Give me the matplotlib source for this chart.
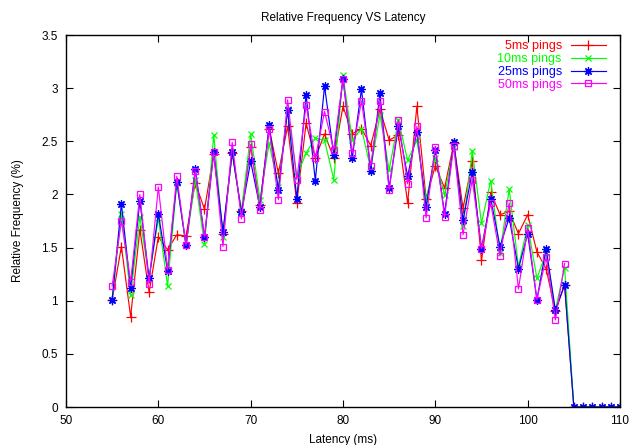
import matplotlib
matplotlib.use("Agg")
import matplotlib.pyplot as plt

plt.rcParams['font.family'] = ['Liberation Sans', 'DejaVu Sans']

latency = list(range(55, 111))
latency_50 = list(range(55, 105))

ping5 = [1.01, 1.51, 0.85, 1.67, 1.08, 1.60, 1.48, 1.62, 1.61, 2.11,
         1.86, 2.38, 1.63, 2.39, 1.84, 2.45, 1.90, 2.62, 2.20, 2.64,
         1.92, 2.67, 2.34, 2.57, 2.34, 2.83, 2.57, 2.62, 2.46, 2.80,
         2.51, 2.56, 1.92, 2.83, 1.96, 2.27, 2.06, 2.48, 1.87, 2.31,
         1.38, 2.02, 1.81, 1.84, 1.63, 1.81, 1.46, 1.30, 0.90, 1.15,
         0, 0, 0, 0, 0, 0]
ping10 = [1.01, 1.82, 1.05, 1.79, 1.21, 1.78, 1.14, 2.11, 1.52, 2.14,
          1.53, 2.56, 1.60, 2.40, 1.84, 2.57, 1.95, 2.48, 2.07, 2.80,
          2.17, 2.39, 2.53, 2.51, 2.14, 3.12, 2.51, 2.62, 2.24, 2.75,
          2.23, 2.70, 2.32, 2.51, 1.95, 2.34, 1.99, 2.45, 1.70, 2.41,
          1.73, 2.13, 1.45, 2.05, 1.32, 1.71, 1.21, 1.45, 0.91, 1.31,
          0, 0, 0, 0, 0, 0]
ping25 = [1.01, 1.91, 1.12, 1.94, 1.21, 1.82, 1.28, 2.12, 1.52, 2.24,
          1.60, 2.40, 1.65, 2.40, 1.83, 2.31, 1.88, 2.65, 2.04, 2.79,
          1.96, 2.94, 2.13, 3.02, 2.37, 3.09, 2.34, 2.99, 2.22, 2.95,
          2.06, 2.64, 2.17, 2.59, 1.88, 2.42, 1.82, 2.49, 1.76, 2.21,
          1.49, 1.96, 1.51, 1.78, 1.30, 1.63, 1.01, 1.49, 0.91, 1.15,
          0, 0, 0, 0, 0, 0]
ping50 = [1.14, 1.75, 1.18, 2.00, 1.16, 2.07, 1.29, 2.17, 1.52, 2.22,
          1.60, 2.40, 1.51, 2.49, 1.77, 2.47, 1.85, 2.62, 1.95, 2.89,
          2.14, 2.84, 2.34, 2.78, 2.42, 3.09, 2.39, 2.88, 2.27, 2.88,
          2.04, 2.70, 2.10, 2.64, 1.78, 2.45, 1.79, 2.46, 1.62, 2.14,
          1.49, 1.92, 1.42, 1.92, 1.11, 1.68, 1.01, 1.41, 0.82, 1.35]

labels = ["5ms pings", "10ms pings", "25ms pings", "50ms pings"]
colors = ["#ff0000", "#00ff00", "#0000ff", "#ff00ff"]
xticks = [50, 60, 70, 80, 90, 100, 110]
yticks = [0, 0.5, 1, 1.5, 2, 2.5, 3, 3.5]
ytick_labels = ["0", "0.5", "1", "1.5", "2", "2.5", "3", "3.5"]

fig = plt.figure(figsize=(6.31, 4.45), dpi=100)
ax = fig.add_axes([66/631, 1-407/445, (620-66)/631, (407-35)/445])

lw = 0.85
ax.plot(latency, ping5, color=colors[0], lw=lw, marker='+', ms=6.5, mew=0.9, label=labels[0])
ax.plot(latency, ping10, color=colors[1], lw=lw, marker='x', ms=5, mew=0.9, label=labels[1])
ax.plot(latency, ping25, color=colors[2], lw=lw, marker=(8, 2, 0), ms=6, mew=0.9, label=labels[2])
ax.plot(latency_50, ping50, color=colors[3], lw=lw, marker='s', ms=5, mew=0.9,
        fillstyle='none', label=labels[3])

ax.set_xlim(50, 110)
ax.set_ylim(0, 3.5)
ax.set_xticks(xticks)
ax.set_xticklabels([str(v) for v in xticks])
ax.set_yticks(yticks)
ax.set_yticklabels(ytick_labels)
ax.tick_params(direction='in', length=5, width=0.8, top=True, right=True,
               labelsize=8.5, pad=6)
for s in ax.spines.values():
    s.set_linewidth(1.0)

ax.set_title("Relative Frequency VS Latency", fontsize=8.5, pad=10)
ax.set_xlabel("Latency (ms)", fontsize=8.5, labelpad=5)
ax.set_ylabel("Relative Frequency (%)", fontsize=8.5, labelpad=12)

leg = ax.legend(loc='upper right', bbox_to_anchor=(0.992, 1.013), frameon=False,
                markerfirst=False, handlelength=2.8, fontsize=9,
                labelspacing=0.07, handletextpad=0.7, borderpad=0.3)
for t, c in zip(leg.get_texts(), colors):
    t.set_color(c)

fig.savefig("out.png", dpi=100)
